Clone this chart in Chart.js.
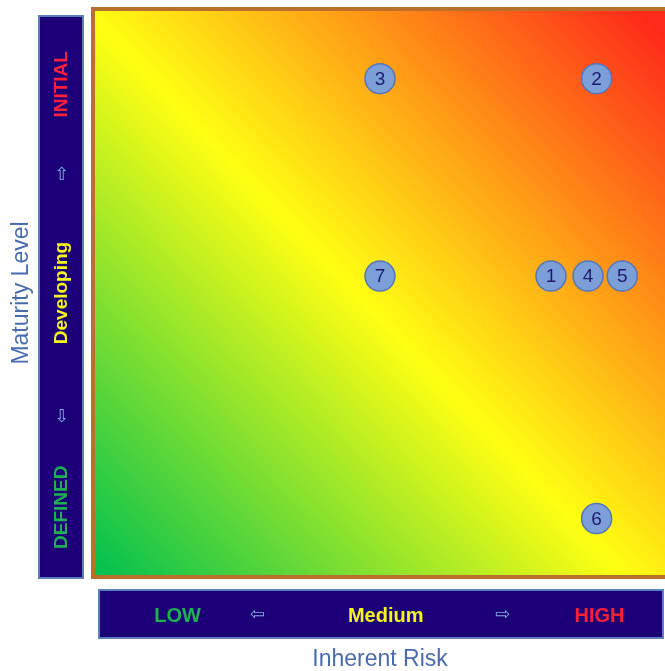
<!DOCTYPE html>
<html>
<head>
<meta charset="utf-8">
<script src="https://cdn.jsdelivr.net/npm/chart.js@4"></script>
<style>
  html, body { margin: 0; padding: 0; background: #fff; overflow: hidden; }
  #wrap { width: 665px; height: 671px; }
</style>
</head>
<body>
<div id="wrap"><canvas id="risk" width="665" height="671"></canvas></div>
<script>
// punkterna (id, inneboende risk, mognadsnivå)
const ids = ["1", "2", "3", "4", "5", "6", "7"];
const riskX = [8.0, 8.8, 5.0, 8.65, 9.25, 8.8, 5.0];
const maturityY = [5.3, 8.8, 8.8, 5.3, 5.3, 1.0, 5.3];

// etiketter på axlarna
const xTickPos = [1.45, 2.85, 5.1, 7.15, 8.85];
const xTickLabels = ["LOW", "\u21E6", "Medium", "\u21E8", "HIGH"];
const yTickPos = [1.2, 2.8, 5.0, 7.1, 8.7];
const yTickLabels = ["DEFINED", "\u21E9", "Developing", "\u21E7", "INITIAL"];

// färger för etiketterna
const labelColors = ["#1fb04f", "#86a6e2", "#f5f51e", "#86a6e2", "#ff1f3a"];

const FONT = "'Liberation Sans', Arial, 'DejaVu Sans', sans-serif";
const navy = "#1b0078";

const points = ids.map((id, i) => ({ x: riskX[i], y: maturityY[i] }));

// bakgrund, ramar och de blå rutorna
const backdrop = {
  id: "backdrop",
  beforeDraw(chart) {
    const { ctx, chartArea: a } = chart;
    ctx.save();
    // vänster ruta
    ctx.fillStyle = navy;
    ctx.strokeStyle = "#5d7fbf";
    ctx.lineWidth = 2;
    ctx.fillRect(a.left - 56, a.top + 5, 44, a.bottom - a.top - 2);
    ctx.strokeRect(a.left - 56, a.top + 5, 44, a.bottom - a.top - 2);
    // nedre ruta
    ctx.fillRect(a.left + 4, a.bottom + 15, a.right - a.left - 6, 48);
    ctx.strokeRect(a.left + 4, a.bottom + 15, a.right - a.left - 6, 48);

    // gradient: grönt nere till vänster, gult i mitten, rött uppe till höger
    const g = ctx.createLinearGradient(a.left, a.bottom, a.right + 20, a.top);
    g.addColorStop(0, "#00c050");
    g.addColorStop(0.47, "#ffff12");
    g.addColorStop(0.96, "#ff2a1a");
    g.addColorStop(1, "#ff2a1a");
    ctx.fillStyle = g;
    ctx.fillRect(a.left, a.top, a.right - a.left + 20, a.bottom - a.top);

    ctx.strokeStyle = "#b8702c";
    ctx.lineWidth = 4;
    ctx.strokeRect(a.left - 2, a.top - 2, a.right - a.left + 30, a.bottom - a.top + 4);
    ctx.restore();
  },
  afterDatasetsDraw(chart) {
    const { ctx } = chart;
    const meta = chart.getDatasetMeta(0);
    ctx.save();
    ctx.font = "19px " + FONT;
    ctx.fillStyle = "#1e1a6e";
    ctx.textAlign = "center";
    ctx.textBaseline = "middle";
    meta.data.forEach((pt, i) => {
      ctx.fillText(ids[i], pt.x, pt.y + 1);
    });

    // y-etiketter, orden roterade, pilarna upprätt
    const ys = chart.scales.y;
    yTickPos.forEach((v, i) => {
      const py = ys.getPixelForValue(v);
      const arrow = i % 2 === 1;
      ctx.save();
      ctx.translate(ys.right - 33, py);
      if (!arrow) ctx.rotate(-Math.PI / 2);
      ctx.font = (arrow ? "18px " : "bold 19px ") + FONT;
      ctx.fillStyle = labelColors[i];
      ctx.fillText(yTickLabels[i], 0, 0);
      ctx.restore();
    });
    ctx.restore();
  }
};

const data = {
  datasets: [{
    label: "Risk",
    data: points,
    pointRadius: 15,
    pointHoverRadius: 15,
    pointBackgroundColor: "#7c9fd8",
    pointBorderColor: "#5575b9",
    pointBorderWidth: 1.5,
    clip: false
  }]
};

const config = {
  type: "scatter",
  data,
  options: {
    responsive: false,
    animation: false,
    layout: { autoPadding: false, padding: { top: 11, right: 0, left: 0, bottom: 0 } },
    plugins: { legend: { display: false }, tooltip: { enabled: false } },
    scales: {
      x: {
        min: 0, max: 10,
        grid: { display: false },
        border: { display: false },
        afterBuildTicks: s => { s.ticks = xTickPos.map(v => ({ value: v })); },
        afterFit: s => { s.height = 96; },
        ticks: {
          autoSkip: false,
          maxRotation: 0,
          padding: 21,
          callback: (v, i) => xTickLabels[i],
          color: c => labelColors[c.index],
          font: c => ({ family: FONT, size: c.index % 2 ? 18 : 20, weight: c.index % 2 ? "normal" : "bold" })
        },
        title: {
          display: true,
          text: "Inherent Risk",
          color: "#4a6cae",
          font: { family: FONT, size: 23, lineHeight: 1 },
          padding: 0
        }
      },
      y: {
        min: 0, max: 10,
        grid: { display: false },
        border: { display: false },
        ticks: { display: false },
        afterFit: s => { s.width = 95; },
        title: {
          display: true,
          text: "Maturity Level",
          color: "#4a6cae",
          font: { family: FONT, size: 23 },
          padding: { top: 8, bottom: 0 }
        }
      }
    }
  },
  plugins: [backdrop]
};

const canvas = document.getElementById("risk");
const riskChart = new Chart(canvas, config);
</script>
</body>
</html>
